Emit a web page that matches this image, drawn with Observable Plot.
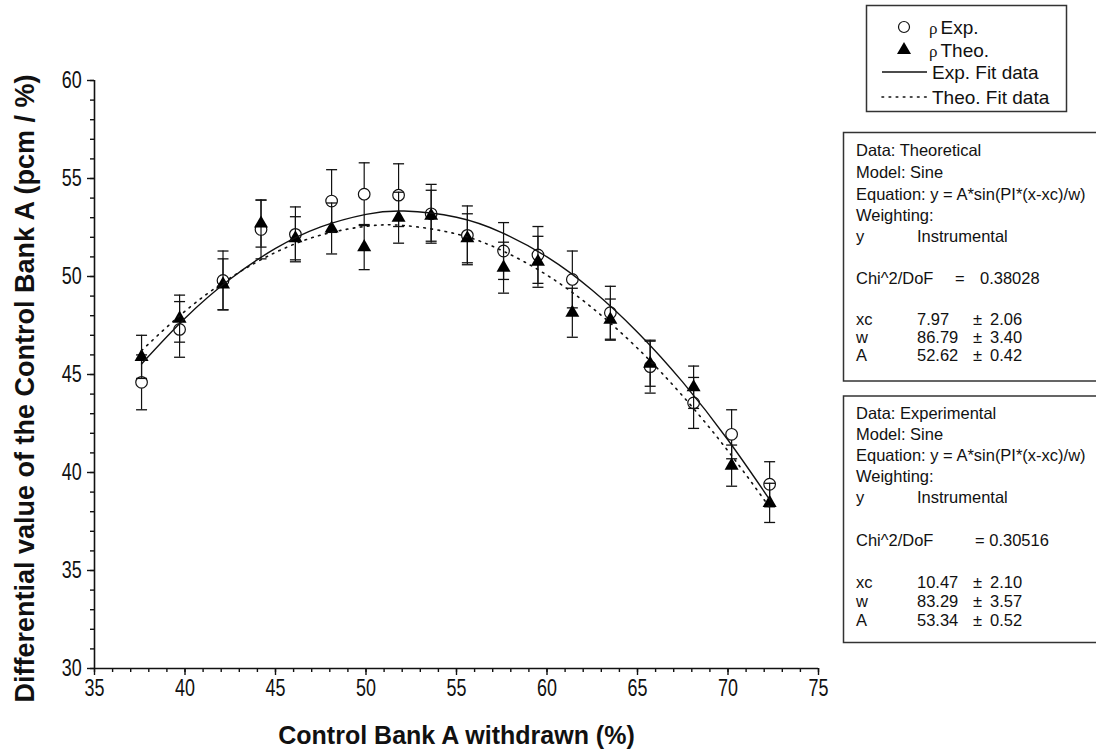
<!DOCTYPE html>
<html><head><meta charset="utf-8">
<script src="https://cdn.jsdelivr.net/npm/d3@7"></script>
<script src="https://cdn.jsdelivr.net/npm/@observablehq/plot@0.6"></script>
<style>
html,body{margin:0;padding:0;background:#fff;}
#chart{width:1096px;height:752px;}
</style></head><body><div id="chart"></div>
<script>
// ---- data ----
const withdrawn = [37.6, 39.7, 42.1, 44.2, 46.1, 48.1, 49.9, 51.8, 53.6, 55.6, 57.6, 59.5, 61.4, 63.5, 65.7, 68.1, 70.2, 72.3];
const rhoExp    = [44.6, 47.3, 49.8, 52.4, 52.15, 53.85, 54.2, 54.15, 53.2, 52.1, 51.3, 51.1, 49.85, 48.15, 45.4, 43.55, 41.95, 39.4];
const rhoExpErr = [1.4, 1.42, 1.5, 1.5, 1.4, 1.6, 1.6, 1.6, 1.5, 1.5, 1.45, 1.45, 1.45, 1.35, 1.35, 1.3, 1.25, 1.15];
const rhoTheo   = [45.9, 47.85, 49.6, 52.7, 51.95, 52.45, 51.5, 53.0, 53.1, 51.95, 50.45, 50.75, 48.15, 47.8, 45.55, 44.35, 40.35, 38.45];
const rhoTheoErr= [1.1, 1.2, 1.3, 1.2, 1.1, 1.3, 1.15, 1.3, 1.3, 1.25, 1.3, 1.3, 1.25, 1.05, 1.15, 1.08, 1.05, 1.0];

const fitX      = [37.6, 40, 42.5, 45, 47.5, 50, 52.1, 55, 57.5, 60, 62.5, 65, 67.5, 70, 72.3];
const expFit    = [45.54, 47.87, 49.87, 51.43, 52.53, 53.17, 53.34, 53.02, 52.24, 51.00, 49.30, 47.16, 44.61, 41.66, 38.62];
const theoFit   = [46.22, 48.23, 49.93, 51.23, 52.11, 52.56, 52.60, 52.17, 51.33, 50.07, 48.40, 46.34, 43.90, 41.10, 38.22];

const xMajorTicks = [35, 40, 45, 50, 55, 60, 65, 70, 75];
const yMajorTicks = [30, 35, 40, 45, 50, 55, 60];
const xMinorTicks = d3.range(35, 76, 1);
const yMinorTicks = d3.range(30, 61, 1);

const xTitle = "Control Bank A withdrawn (%)";
const yTitle = "Differential value of the Control Bank A (pcm / %)";

const legendLabels = ["Exp.", "Theo.", "Exp. Fit data", "Theo. Fit data"];
const statsTheo = {data: "Theoretical", chi: "0.38028", xc: ["7.97", "2.06"], w: ["86.79", "3.40"], A: ["52.62", "0.42"]};
const statsExp  = {data: "Experimental", chi: "0.30516", xc: ["10.47", "2.10"], w: ["83.29", "3.57"], A: ["53.34", "0.52"]};

// ---- tables ----
const expRows  = withdrawn.map((x, i) => ({x, y: rhoExp[i], e: rhoExpErr[i]}));
const theoRows = withdrawn.map((x, i) => ({x, y: rhoTheo[i], e: rhoTheoErr[i]}));
const expFitRows  = fitX.map((x, i) => ({x, y: expFit[i]}));
const theoFitRows = fitX.map((x, i) => ({x, y: theoFit[i]}));

const cap = {draw(ctx, size) { const r = Math.sqrt(size / Math.PI); ctx.moveTo(-r, 0); ctx.lineTo(r, 0); }};
const FONT = "'Liberation Sans', Arial, sans-serif";
const ink = "#111";

function errMarks(rows) {
  return [
    Plot.ruleX(rows, {x: "x", y1: d => d.y - d.e, y2: d => d.y + d.e, stroke: ink, strokeWidth: 1.2}),
    Plot.dot(rows, {x: "x", y: d => d.y + d.e, symbol: cap, r: 5.5, stroke: ink, strokeWidth: 1.3}),
    Plot.dot(rows, {x: "x", y: d => d.y - d.e, symbol: cap, r: 5.5, stroke: ink, strokeWidth: 1.3})
  ];
}

const svg = Plot.plot({
  width: 1096, height: 752,
  marginLeft: 94, marginRight: 278, marginTop: 80, marginBottom: 84,
  style: {fontFamily: FONT, background: "#fff", color: ink},
  x: {domain: [35, 75], label: null},
  y: {domain: [30, 60], label: null},
  marks: [
    Plot.axisX({ticks: xMinorTicks, tickSize: 4, tickFormat: () => "", strokeWidth: 1.4}),
    Plot.axisX({ticks: xMajorTicks, tickSize: 7, tickPadding: 4, strokeWidth: 1.4, fontSize: 21}),
    Plot.axisY({ticks: yMinorTicks, tickSize: 4, tickFormat: () => "", strokeWidth: 1.4}),
    Plot.axisY({ticks: yMajorTicks, tickSize: 7, tickPadding: 3, strokeWidth: 1.4, fontSize: 21}),
    Plot.ruleY([30], {stroke: ink, strokeWidth: 1.6}),
    Plot.ruleX([35], {stroke: ink, strokeWidth: 1.6}),
    ...errMarks(expRows),
    Plot.dot(expRows, {x: "x", y: "y", r: 5.8, stroke: ink, fill: "#fff", strokeWidth: 1.2}),
    ...errMarks(theoRows),
    Plot.dot(theoRows, {x: "x", y: "y", symbol: "triangle", r: 5.2, fill: "#000", stroke: "none"}),
    Plot.line(expFitRows, {x: "x", y: "y", curve: "natural", stroke: ink, strokeWidth: 1.4}),
    Plot.line(theoFitRows, {x: "x", y: "y", curve: "natural", stroke: ink, strokeWidth: 1.6, strokeDasharray: "1.6 5.5", strokeLinecap: "round"}),
    Plot.text([xTitle], {frameAnchor: "bottom", lineAnchor: "middle", textAnchor: "middle", dy: 67, fontWeight: "bold", fontSize: 25, fill: ink}),
    Plot.text([yTitle], {frameAnchor: "left", textAnchor: "middle", lineAnchor: "middle", rotate: -90, dx: -69, dy: 14, fontWeight: "bold", fontSize: 27, fill: ink})
  ]
});
document.getElementById("chart").appendChild(svg);

const s = d3.select(svg);
// larger, condensed tick labels like the reference (only tick labels are pure integers at this point)
s.selectAll("text").filter(function() { return /^\d+$/.test(this.textContent.trim()); }).each(function() {
  this.setAttribute("font-size", "23");
  this.style.fontSize = "23px";
  const b = this.getBBox();
  const cx = b.x + b.width / 2, cy = b.y + b.height / 2;
  const old = this.getAttribute("transform") || "";
  this.setAttribute("transform", `${old} translate(${cx},${cy}) scale(0.78,1) translate(${-cx},${-cy})`);
});

// ---- legend and fit-statistics boxes ----
const lg = s.append("g").attr("font-family", FONT).attr("fill", ink).attr("text-anchor", "start");
lg.append("rect").attr("x", 866.5).attr("y", 5.5).attr("width", 200).attr("height", 106).attr("fill", "#fff").attr("stroke", "#333").attr("stroke-width", 1.5);
const rows = [27, 50, 72, 97];
lg.append("circle").attr("cx", 904).attr("cy", rows[0]).attr("r", 5.5).attr("fill", "#fff").attr("stroke", ink).attr("stroke-width", 1.2);
lg.append("path").attr("d", d3.symbol(d3.symbolTriangle, 85)()).attr("transform", `translate(904,${rows[1]})`).attr("fill", "#000");
lg.append("line").attr("x1", 882).attr("x2", 927).attr("y1", rows[2]).attr("y2", rows[2]).attr("stroke", ink).attr("stroke-width", 1.4);
lg.append("line").attr("x1", 882).attr("x2", 927).attr("y1", rows[3]).attr("y2", rows[3]).attr("stroke", ink).attr("stroke-width", 1.6).attr("stroke-dasharray", "1.6 5.5").attr("stroke-linecap", "round");
[0, 1].forEach(i => {
  const t = lg.append("text").attr("x", 929).attr("y", rows[i] + 7).attr("font-size", 19);
  t.append("tspan").attr("font-family", "'Liberation Serif', serif").attr("font-size", 17).text("ρ");
  t.append("tspan").attr("dx", 3).text(legendLabels[i]);
});
[2, 3].forEach(i => lg.append("text").attr("x", 932).attr("y", rows[i] + 7).attr("font-size", 19).text(legendLabels[i]));

function statsBox(top, bottom, st, ys, eqCol) {
  const g = s.append("g").attr("font-family", FONT).attr("fill", ink).attr("font-size", 16.5).attr("text-anchor", "start");
  g.append("rect").attr("x", 843.5).attr("y", top).attr("width", 270).attr("height", bottom - top).attr("fill", "#fff").attr("stroke", "#333").attr("stroke-width", 1.5);
  const line = (x, y, str) => g.append("text").attr("transform", `translate(${x},${y + 6}) scale(1,1.05)`).text(str);
  line(856, ys[0], "Data: " + st.data);
  line(856, ys[1], "Model: Sine");
  line(856, ys[2], "Equation: y = A*sin(PI*(x-xc)/w)");
  line(856, ys[3], "Weighting:");
  line(856, ys[4], "y");
  line(917, ys[4], "Instrumental");
  line(856, ys[5], "Chi^2/DoF");
  eqCol(line, ys[5], st.chi);
  [["xc", st.xc], ["w", st.w], ["A", st.A]].forEach(([k, v], j) => {
    line(856, ys[6 + j], k);
    line(917, ys[6 + j], v[0]);
    line(973, ys[6 + j], "±");
    line(990, ys[6 + j], v[1]);
  });
}
statsBox(132.5, 381, statsTheo, [150, 172, 194, 215, 236, 278, 319, 337, 355],
  (line, y, v) => { line(955, y, "="); line(980, y, v); });
statsBox(396, 642.5, statsExp, [413, 434, 455, 476, 497, 540, 582, 601, 620],
  (line, y, v) => { line(975, y, "= " + v); });
</script></body></html>
